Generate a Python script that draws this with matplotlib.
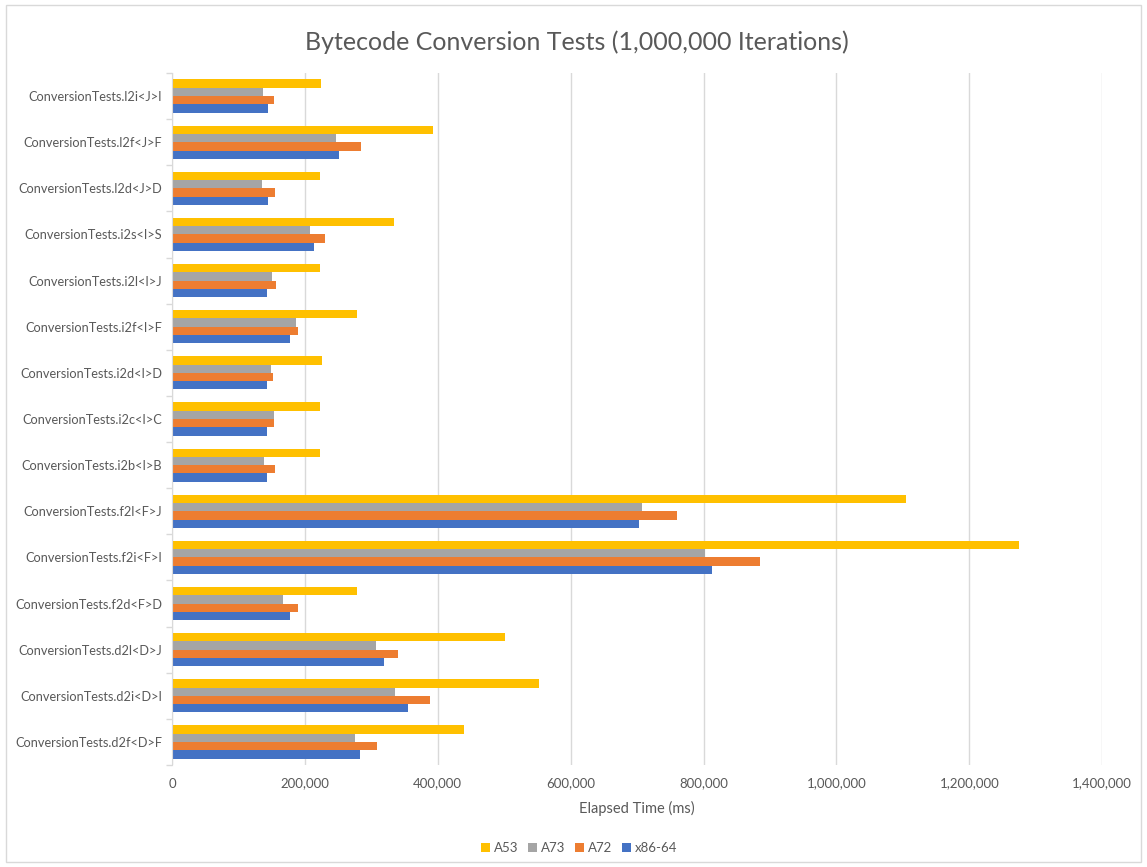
import matplotlib.pyplot as plt
import numpy as np
from matplotlib.patches import Rectangle
from matplotlib.ticker import FuncFormatter, MultipleLocator

# Benchmarks, listed bottom to top as they sit on the category axis
tests = ["ConversionTests.d2f<D>F", "ConversionTests.d2i<D>I", "ConversionTests.d2l<D>J",
         "ConversionTests.f2d<F>D", "ConversionTests.f2i<F>I", "ConversionTests.f2l<F>J",
         "ConversionTests.i2b<I>B", "ConversionTests.i2c<I>C", "ConversionTests.i2d<I>D",
         "ConversionTests.i2f<I>F", "ConversionTests.i2l<I>J", "ConversionTests.i2s<I>S",
         "ConversionTests.l2d<J>D", "ConversionTests.l2f<J>F", "ConversionTests.l2i<J>I"]

# Elapsed time in ms, one list per machine, same order as tests
x86_64 = [283000, 355700, 319500, 177000, 812500, 703500, 142800, 143300, 143300,
          177000, 143300, 213100, 143800, 250700, 144300]
a72 = [309000, 388800, 340100, 190000, 884300, 760300, 154400, 153300, 151800,
       190000, 155900, 229700, 154900, 283900, 153900]
a73 = [274800, 335100, 306500, 167400, 802400, 707600, 138300, 152900, 148300,
       186000, 149800, 208100, 134800, 246200, 136800]
a53 = [440000, 552400, 500700, 277900, 1275300, 1104600, 222600, 222600, 226200,
       277900, 222600, 334100, 223100, 392300, 223600]

series = [("x86-64", x86_64, "#4472C4"),
          ("A72", a72, "#ED7D31"),
          ("A73", a73, "#A5A5A5"),
          ("A53", a53, "#FFC000")]

plt.rcParams["font.family"] = ["Lato", "DejaVu Sans"]
text_color = "#595959"

fig = plt.figure(figsize=(11.47, 8.67), dpi=100)
ax = fig.add_axes([0.150, 0.1176, 0.811, 0.7982])

y = np.arange(len(tests))
h = 0.18
for k, (name, vals, color) in enumerate(series):
    ax.barh(y + (k - 1.5) * h, vals, height=h, color=color, label=name, zorder=3)

ax.set_ylim(-0.5, len(tests) - 0.5)
ax.set_xlim(0, 1400000)
ax.xaxis.set_major_locator(MultipleLocator(200000))
ax.xaxis.set_major_formatter(FuncFormatter(lambda v, p: f"{int(v):,}"))
ax.grid(axis="x", color="#D9D9D9", linewidth=1, zorder=0)

ax.set_yticks(y)
ax.set_yticklabels(tests)
ax.set_yticks(np.arange(-0.5, len(tests), 1), minor=True)
ax.tick_params(axis="y", which="major", length=0, pad=7, labelsize=9.2, labelcolor=text_color)
ax.tick_params(axis="y", which="minor", length=4, color="#D9D9D9", width=1)
ax.tick_params(axis="x", length=0, pad=9, labelsize=9.5, labelcolor=text_color)

for side in ["top", "right", "bottom"]:
    ax.spines[side].set_visible(False)
ax.spines["left"].set_color("#D9D9D9")
ax.spines["left"].set_zorder(4)

ax.set_xlabel("Elapsed Time (ms)", fontsize=10.5, color=text_color, labelpad=8)
fig.suptitle("Bytecode Conversion Tests (1,000,000 Iterations)", x=0.503, y=0.965,
             fontsize=18, color=text_color)

handles, labels = ax.get_legend_handles_labels()
fig.legend(handles[::-1], labels[::-1], loc="center", bbox_to_anchor=(0.505, 0.022),
           ncol=4, frameon=False, fontsize=9.5, labelcolor=text_color,
           handlelength=0.7, handleheight=0.7, handletextpad=0.3, columnspacing=0.7)

# chart border
fig.add_artist(Rectangle((6 / 1147, 5 / 867), 1135 / 1147, 857 / 867, transform=fig.transFigure,
                         fill=False, edgecolor="#D9D9D9", linewidth=1))

fig.savefig("out.png", dpi=100)
